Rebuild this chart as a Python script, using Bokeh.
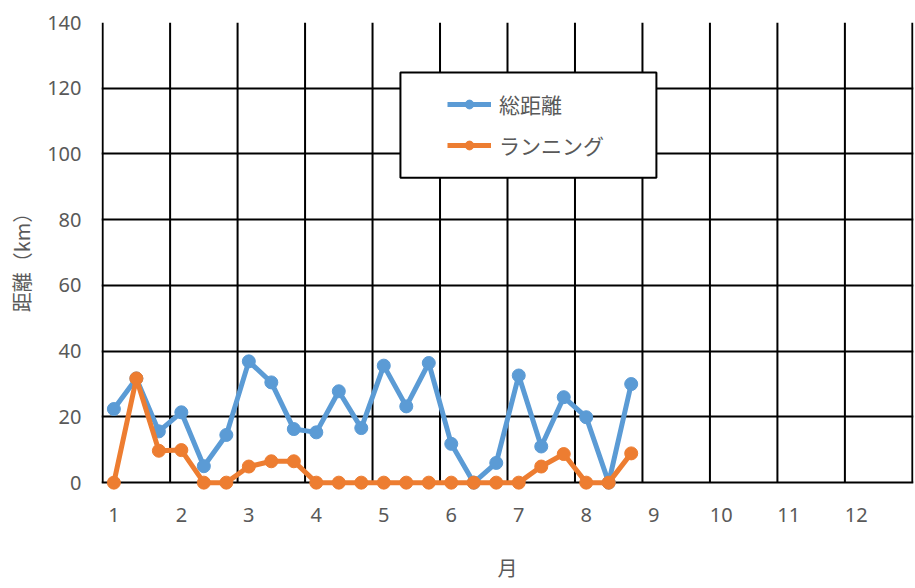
import numpy as np
from bokeh.plotting import figure
from bokeh.models import (Range1d, FixedTicker, Legend, LegendItem, BoxAnnotation,
                          ColumnDataSource)
from bokeh.embed import file_html
from bokeh.resources import INLINE

# ---- data ----
month_labels = ["1", "2", "3", "4", "5", "6", "7", "8", "9", "10", "11", "12"]
points_per_month = 3
total_km = [22.4, 31.7, 15.6, 21.4, 5.0, 14.5, 36.9, 30.5, 16.3, 15.3, 27.8, 16.6,
            35.6, 23.2, 36.4, 11.8, 0.0, 6.0, 32.6, 11.0, 26.0, 19.9, 0.0, 30.0]
running_km = [0.0, 31.7, 9.7, 9.9, 0.0, 0.0, 4.9, 6.5, 6.5, 0.0, 0.0, 0.0,
              0.0, 0.0, 0.0, 0.0, 0.0, 0.0, 0.0, 4.9, 8.7, 0.0, 0.0, 8.9]
series_names = ["総距離", "ランニング"]
y_ticks = [0, 20, 40, 60, 80, 100, 120, 140]

BLUE = "#5B9BD5"
ORANGE = "#ED7D31"
GREY = "#595959"
JP = "Noto Sans CJK JP"

n_slots = len(month_labels) * points_per_month
x = np.arange(len(total_km)) + 0.5

p = figure(width=915, height=588, output_backend="svg", toolbar_location=None,
           x_range=Range1d(-0.05, n_slots + 0.05), y_range=Range1d(-3, y_ticks[-1]),
           min_border_left=101, min_border_right=2, min_border_top=22, min_border_bottom=96)
p.outline_line_color = None
p.background_fill_color = "white"

# grid
p.xgrid.visible = False
p.ygrid.ticker = FixedTicker(ticks=y_ticks)
p.ygrid.grid_line_color = "black"
p.ygrid.grid_line_width = 2
vx = list(range(0, n_slots + 1, points_per_month))
p.segment(x0=vx, x1=vx, y0=[y_ticks[0]] * len(vx), y1=[y_ticks[-1]] * len(vx),
          line_color="black", line_width=2)

# axes
p.yaxis.ticker = FixedTicker(ticks=y_ticks)
p.yaxis.axis_line_color = None
p.yaxis.major_tick_line_color = None
p.yaxis.minor_tick_line_color = None
p.yaxis.major_label_standoff = 14
p.yaxis.major_label_text_font = "Noto Sans"
p.yaxis.major_label_text_font_size = "20px"
p.yaxis.major_label_text_color = GREY
p.yaxis.axis_label = "距離（km）"
p.yaxis.axis_label_text_font = JP
p.yaxis.axis_label_text_font_size = "20px"
p.yaxis.axis_label_text_font_style = "normal"
p.yaxis.axis_label_text_color = GREY
p.yaxis.axis_label_standoff = 8

xt = [i * points_per_month + 0.5 for i in range(len(month_labels))]
p.xaxis.ticker = FixedTicker(ticks=xt)
p.xaxis.major_label_overrides = {t: lab for t, lab in zip(xt, month_labels)}
p.xaxis.axis_line_color = None
p.xaxis.major_tick_line_color = None
p.xaxis.minor_tick_line_color = None
p.xaxis.major_label_standoff = 9
p.xaxis.major_label_text_font = "Noto Sans"
p.xaxis.major_label_text_font_size = "20px"
p.xaxis.major_label_text_color = GREY
p.xaxis.axis_label = "月"
p.xaxis.axis_label_text_font = JP
p.xaxis.axis_label_text_font_size = "20px"
p.xaxis.axis_label_text_font_style = "normal"
p.xaxis.axis_label_text_color = GREY
p.xaxis.axis_label_standoff = 28

# series
src = ColumnDataSource(dict(x=x, total=total_km, run=running_km))
l1 = p.line("x", "total", source=src, line_color=BLUE, line_width=5, line_join="round")
s1 = p.scatter("x", "total", source=src, size=13, fill_color=BLUE, line_color=BLUE)
l2 = p.line("x", "run", source=src, line_color=ORANGE, line_width=5, line_join="round")
s2 = p.scatter("x", "run", source=src, size=13, fill_color=ORANGE, line_color=ORANGE)

# legend
box = BoxAnnotation(left=13.24, right=24.62, bottom=92.8, top=124.8,
                    fill_color="white", fill_alpha=1.0, line_color="black",
                    line_alpha=1.0, line_width=2)
p.add_layout(box)
legend = Legend(items=[LegendItem(label=series_names[0], renderers=[l1, s1]),
                       LegendItem(label=series_names[1], renderers=[l2, s2])],
                location=(336, 322), padding=10, spacing=11,
                glyph_width=44, glyph_height=22, label_height=22, label_standoff=8,
                label_text_font=JP, label_text_font_size="21px", label_text_color=GREY,
                background_fill_alpha=0, border_line_alpha=0)
p.add_layout(legend, "center")

open("out.html", "w").write(file_html(p, INLINE))
